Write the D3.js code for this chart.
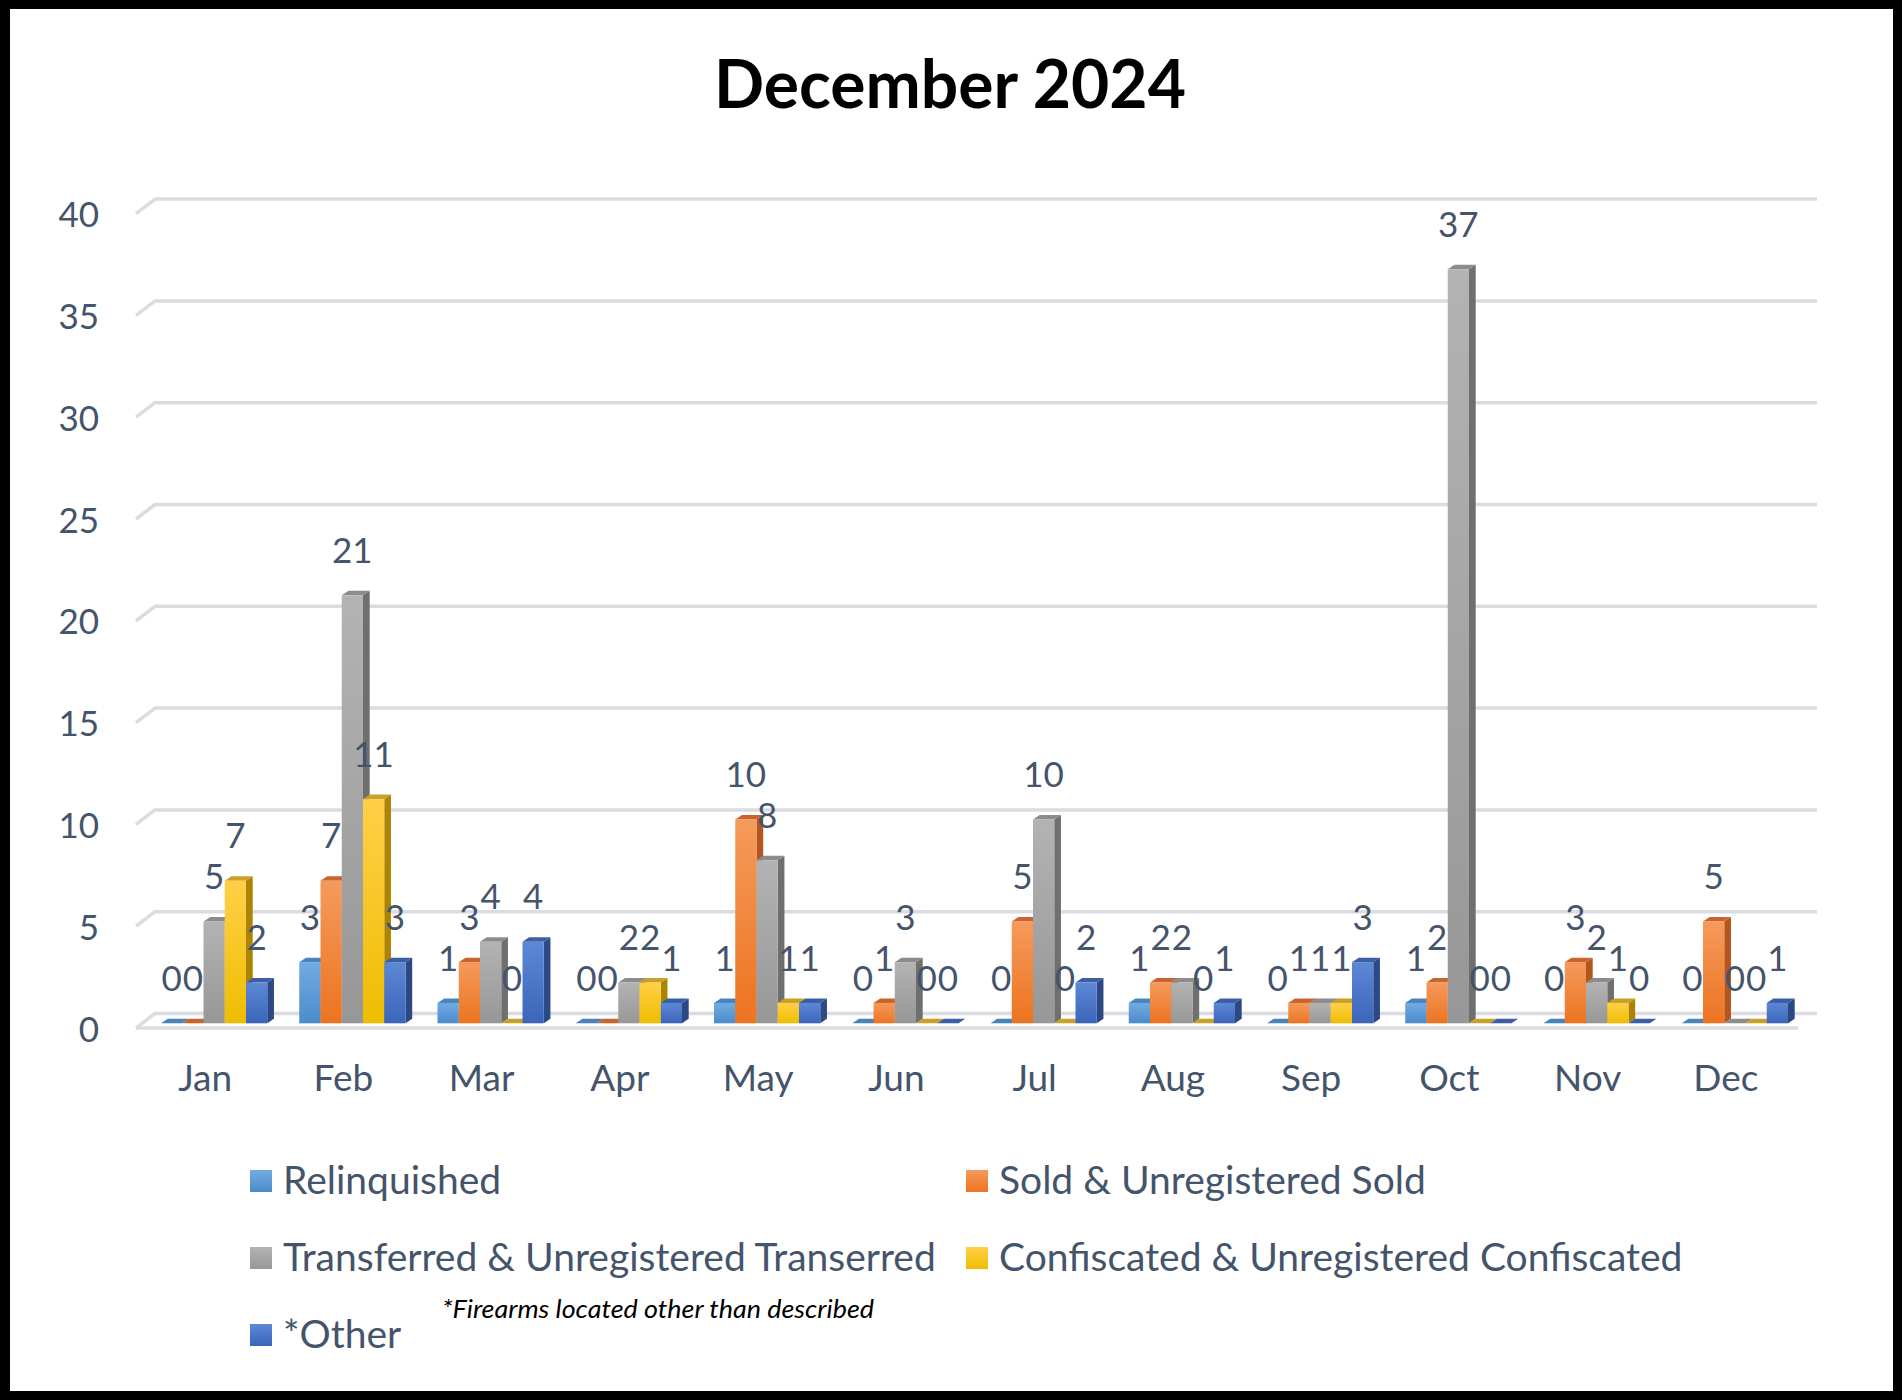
<!DOCTYPE html>
<html>
<head>
<meta charset="utf-8">
<script src="https://cdn.jsdelivr.net/npm/d3@7/dist/d3.min.js"></script>
<style>
  html, body { margin: 0; padding: 0; background: #ffffff; }
  svg { display: block; }
</style>
</head>
<body>
<script>
// ---------- DATA ----------
const months = ["Jan","Feb","Mar","Apr","May","Jun","Jul","Aug","Sep","Oct","Nov","Dec"];
const seriesNames = [
  "Relinquished",
  "Sold & Unregistered Sold",
  "Transferred & Unregistered Transerred",
  "Confiscated & Unregistered Confiscated",
  "*Other"
];
const relinquished = [0, 3, 1, 0, 1, 0, 0, 1, 0, 1, 0, 0];
const sold         = [0, 7, 3, 0, 10, 1, 5, 2, 1, 2, 3, 5];
const transferred  = [5, 21, 4, 2, 8, 3, 10, 2, 1, 37, 2, 0];
const confiscated  = [7, 11, 0, 2, 1, 0, 0, 0, 1, 0, 1, 0];
const other        = [2, 3, 4, 1, 1, 0, 2, 1, 3, 0, 0, 1];
const yTicks = [0, 5, 10, 15, 20, 25, 30, 35, 40];
const titleText = "December 2024";
const footnote = "*Firearms located other than described";

const seriesValues = [relinquished, sold, transferred, confiscated, other];

// ---------- STYLE ----------
const W = 1902, H = 1400;
const textColor = "#44546a";
const font = "Lato, 'Open Sans', sans-serif";
const faces = [
  { light: "#72abe2", dark: "#4b8bcb", side: "#3c6d9e", top: "#4a84bd" },
  { light: "#f59a5c", dark: "#ec7420", side: "#b3551c", top: "#c9652c" },
  { light: "#b3b3b3", dark: "#979797", side: "#6f6f6f", top: "#8c8c8c" },
  { light: "#ffd048", dark: "#efbd00", side: "#ad8400", top: "#c9a126" },
  { light: "#5d88d6", dark: "#3b65b9", side: "#2b4985", top: "#3b5ea6" }
];

const svg = d3.select("body").append("svg").attr("width", W).attr("height", H);
const defs = svg.append("defs");
faces.forEach((f, i) => {
  const g = defs.append("linearGradient").attr("id", "gf" + i)
    .attr("x1", 0).attr("y1", 0).attr("x2", 0).attr("y2", 1);
  g.append("stop").attr("offset", "0%").attr("stop-color", f.light);
  g.append("stop").attr("offset", "100%").attr("stop-color", f.dark);
});

// frame
svg.append("rect").attr("x", 0).attr("y", 0).attr("width", W).attr("height", H).attr("fill", "#000");
svg.append("rect").attr("x", 10).attr("y", 9).attr("width", 1883).attr("height", 1382).attr("fill", "#fff");

// ---------- SCALES ----------
const x = d3.scaleBand().domain(months).range([136, 1795]).padding(0);
const xs = d3.scaleBand().domain(d3.range(seriesNames.length)).range([0, 106.25]).padding(0);
const groupOffset = 25;
const yFront = d3.scaleLinear().domain([0, 40]).range([1023.3, 1023.3 - 20.38 * 40]);
const yBack = d3.scaleLinear().domain([0, 40]).range([1013.5, 1013.5 - 20.36 * 40]);
const wallDX = 19, wallDY = 14.5;
const backLeft = 136 + wallDX, backRight = 1817;
const barDX = 6.7, barDY = 4.5;

// ---------- TITLE ----------
svg.append("text").attr("x", 950).attr("y", 108).attr("text-anchor", "middle")
  .attr("font-family", font).attr("font-weight", 700).attr("font-size", 66)
  .attr("fill", "#000").text(titleText);

// ---------- GRID ----------
const grid = svg.append("g").attr("fill", "none").attr("stroke", "#dadce2")
  .attr("stroke-width", 3.5).attr("stroke-linejoin", "round");
yTicks.forEach(t => {
  const yb = yBack(t);
  grid.append("path").attr("d",
    `M${136},${yb + wallDY} L${backLeft},${yb} L${backRight},${yb}`);
});
// floor front edge
grid.append("path").attr("d", `M136,${yBack(0) + wallDY} L1798,${yBack(0) + wallDY}`);

// y labels
svg.append("g").selectAll("text").data(yTicks).join("text")
  .attr("x", 99).attr("y", d => yBack(d) + wallDY + 1)
  .attr("dy", "0.36em").attr("text-anchor", "end")
  .attr("font-family", font).attr("font-size", 35).attr("fill", textColor)
  .text(d => d);

// ---------- BARS ----------
const barsG = svg.append("g");
const bw = xs.bandwidth();
months.forEach((m, mi) => {
  seriesValues.forEach((vals, si) => {
    const v = vals[mi];
    const x0 = x(m) + groupOffset + xs(si);
    const x1 = x0 + bw;
    const yt = yFront(v), yb = yFront(0);
    const f = faces[si];
    if (v > 0) {
      barsG.append("path").attr("fill", f.side).attr("d",
        `M${x1},${yb} L${x1},${yt} L${x1 + barDX},${yt - barDY} L${x1 + barDX},${yb - barDY} Z`);
    }
    barsG.append("path").attr("fill", f.top).attr("d",
      `M${x0},${yt} L${x1},${yt} L${x1 + barDX},${yt - barDY} L${x0 + barDX},${yt - barDY} Z`);
    if (v > 0) {
      barsG.append("rect").attr("x", x0).attr("y", yt).attr("width", bw).attr("height", yb - yt)
        .attr("fill", `url(#gf${si})`);
    }
  });
});

// data labels
const labG = svg.append("g").attr("font-family", font).attr("font-size", 35)
  .attr("fill", textColor).attr("text-anchor", "middle");
months.forEach((m, mi) => {
  seriesValues.forEach((vals, si) => {
    const v = vals[mi];
    const cx = x(m) + groupOffset + xs(si) + bw / 2;
    labG.append("text").attr("x", cx).attr("y", yFront(v) - 45).attr("dy", "0.36em").text(v);
  });
});

// category labels
svg.append("g").selectAll("text").data(months).join("text")
  .attr("x", d => x(d) + x.bandwidth() / 2).attr("y", 1091)
  .attr("text-anchor", "middle").attr("font-family", font).attr("font-size", 37)
  .attr("fill", textColor).text(d => d);

// ---------- LEGEND ----------
const legendPos = [
  { x: 250, y: 1181 }, { x: 966, y: 1181 },
  { x: 250, y: 1258 }, { x: 966, y: 1258 },
  { x: 250, y: 1335 }
];
const lg = svg.append("g");
seriesNames.forEach((name, i) => {
  const p = legendPos[i];
  lg.append("rect").attr("x", p.x).attr("y", p.y - 11).attr("width", 22).attr("height", 22)
    .attr("fill", `url(#gf${i})`);
  lg.append("text").attr("x", p.x + 33).attr("y", p.y + 13)
    .attr("font-family", font).attr("font-size", 39).attr("fill", textColor).text(name);
});
svg.append("text").attr("x", 442).attr("y", 1318)
  .attr("font-family", font).attr("font-style", "italic").attr("font-size", 25)
  .attr("textLength", 432).attr("lengthAdjust", "spacingAndGlyphs")
  .attr("fill", "#000").text(footnote);
</script>
</body>
</html>
